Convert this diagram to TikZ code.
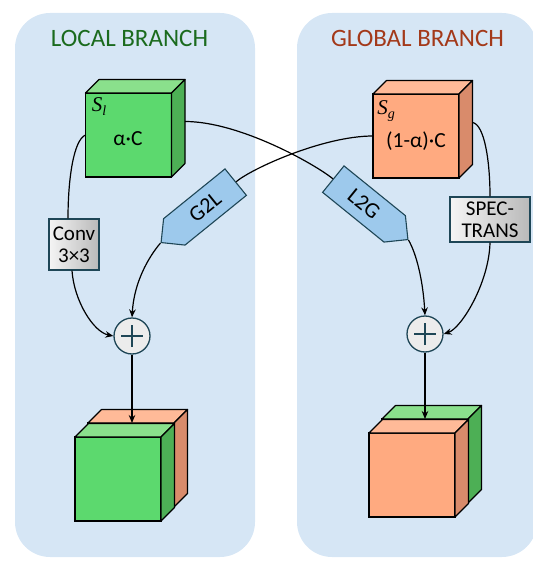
\documentclass[tikz,border=0pt]{standalone}
\usepackage{fontspec}
\setmainfont{Carlito}
\newfontfamily\lblfont{Liberation Serif}
\usetikzlibrary{shapes.symbols,arrows.meta,calc}
\definecolor{panel}{HTML}{D6E6F5}
\definecolor{gfront}{HTML}{5CD96E}
\definecolor{gtop}{HTML}{8AE08C}
\definecolor{gside}{HTML}{4DAF55}
\definecolor{ofront}{HTML}{FFAA80}
\definecolor{otop}{HTML}{FFBA98}
\definecolor{oside}{HTML}{D98B6B}
\definecolor{edgeteal}{HTML}{1E4656}
\definecolor{sigfill}{HTML}{9DC9EC}
\definecolor{lgreen}{HTML}{1B6B1E}
\definecolor{gbrown}{HTML}{A3391A}
\newcommand\mycube[5]{%
  \node[face, fill=#3] (#1) at (#2) {};
  \draw[cubeline, fill=#4] (#1.north west) -- ($(#1.north west)+(13.5,-13.5)$) -- ($(#1.north east)+(13.5,-13.5)$) -- (#1.north east) -- cycle;
  \draw[cubeline, fill=#5] (#1.north east) -- ($(#1.north east)+(13.5,-13.5)$) -- ($(#1.south east)+(13.5,-13.5)$) -- (#1.south east) -- cycle;
}
\newcommand\sublbl[2]{{\lblfont\itshape #1\raisebox{-4pt}{\fontsize{14}{14}\selectfont #2}}}
\begin{document}
\begin{tikzpicture}[x=1pt,y=-1pt,
  face/.style={draw=black, line width=1.2pt, minimum width=86pt, minimum height=84pt, inner sep=0pt, outer sep=0pt},
  cubeline/.style={draw=black, line width=1.2pt, line join=round},
  title/.style={font=\fontsize{25}{28}\selectfont},
  celltext/.style={font=\fontsize{21.5}{23}\selectfont, inner sep=0pt},
  mathlbl/.style={font=\fontsize{21}{22}\selectfont, inner sep=0pt},
  procbox/.style={draw=edgeteal, line width=1.3pt, left color=gray!8, right color=gray!55, align=center, inner sep=0pt, font=\fontsize{21}{22}\selectfont},
  sig/.style={signal, signal pointer angle=90, draw=edgeteal, line width=1.1pt, fill=sigfill, minimum width=96pt, minimum height=34pt, inner sep=0pt, font=\fontsize{22}{24}\selectfont},
  plus/.style={circle, draw=edgeteal, line width=1.3pt, fill=gray!15, minimum size=36pt, inner sep=0pt,
    path picture={\draw[line width=2.4pt] ([xshift=-11pt]path picture bounding box.center) -- ([xshift=11pt]path picture bounding box.center);
                  \draw[line width=2.4pt] ([yshift=-11pt]path picture bounding box.center) -- ([yshift=11pt]path picture bounding box.center);}},
  conn/.style={line width=1.2pt, draw=black},
  arr/.style={conn, -{Stealth[length=8pt,width=6.5pt]}}
]
\useasboundingbox (0,0) rectangle (532,561);
% panels
\fill[panel, rounded corners=35pt] (15,13) rectangle (255,557);
\fill[panel, rounded corners=35pt] (297,13) rectangle (537,557);
\node[title, text=lgreen] (ltitle) at (129.5,38) {LOCAL BRANCH};
\node[title, text=gbrown] (gtitle) at (417.5,38) {GLOBAL BRANCH};
% top cubes
\mycube{sl}{128.5,135}{gfront}{gtop}{gside}
\mycube{sg}{416,136}{ofront}{otop}{oside}
\node[mathlbl] (sllbl) at (99,107) {\sublbl{S}{l}};
\node[mathlbl] (sglbl) at (386,111) {\sublbl{S}{g}};
\node[celltext] (sltxt) at (128,139) {α·C};
\node[celltext] (sgtxt) at (416,141) {(1-α)·C};
% bottom cubes
\mycube{lob}{131,465}{ofront}{otop}{oside}
\mycube{lgf}{118,479}{gfront}{gtop}{gside}
\mycube{rgb}{425,461}{gfront}{gtop}{gside}
\mycube{rof}{412,475}{ofront}{otop}{oside}
% operators
\node[procbox, minimum width=50pt, minimum height=51pt] (conv) at (74,244.5) {Conv\\3×3};
\node[procbox, minimum width=80pt, minimum height=45pt] (spec) at (490,219.5) {SPEC-\\TRANS};
\node[sig, signal to=west, rotate=39] (g2l) at (205,207) {G2L};
\node[sig, signal to=east, rotate=-39] (l2g) at (364,204) {L2G};
\node[plus] (p1) at (132,336) {};
\node[plus] (p2) at (425,334) {};
% connectors
\draw[conn] (sl.west) .. controls +(-12,5) and +(0,-39) .. ([xshift=-6pt]conv.north);
\draw[arr] ([xshift=-2pt]conv.south) .. controls +(2,30) and +(-20,-4) .. (p1.west);
\draw[conn] ($(sl.east)+(13.5,-13.5)$) .. controls +(55,0) and +(-17,-14) .. (l2g.west);
\draw[arr] (l2g.east) .. controls +(8,14) and +(-2,-35) .. (p2.north);
\draw[conn] (sg.west) .. controls +(-50,0) and +(15,-13) .. (g2l.east);
\draw[arr] (g2l.west) .. controls +(-12,14) and +(2,-35) .. (p1.north);
\draw[conn] ($(sg.east)+(13.5,-13.5)$) .. controls +(12,2) and +(0,-35) .. (spec.north);
\draw[arr] (spec.south) .. controls +(-1,40) and +(18,-6) .. (p2.east);
\draw[arr] (p1.south) -- (p1.south |- lob.north);
\draw[arr] (p2.south) -- (p2.south |- rgb.north);
\end{tikzpicture}
\end{document}
